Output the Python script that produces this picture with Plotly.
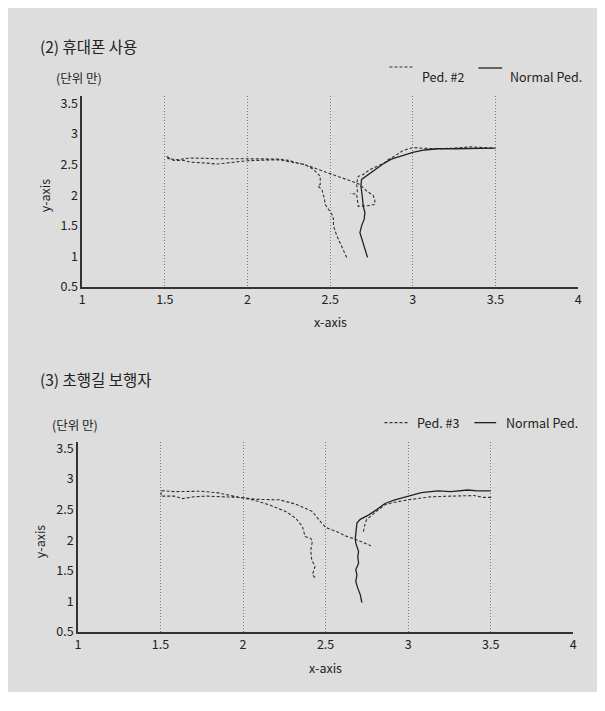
import plotly.graph_objects as go

# ---------------- data ----------------
x_ticks = [1, 1.5, 2, 2.5, 3, 3.5, 4]
y_ticks = [0.5, 1, 1.5, 2, 2.5, 3, 3.5]

# Chart (2) 휴대폰 사용
ped2_x = [2.60, 2.586, 2.56, 2.54, 2.52, 2.52, 2.51, 2.49, 2.47, 2.466, 2.45, 2.426, 2.44, 2.44,
          2.40, 2.35, 2.19, 2.0, 1.914, 1.814, 1.735, 1.655, 1.616, 1.556, 1.512, 1.512,
          1.536, 1.576, 1.616, 1.655, 1.814, 2.0, 2.19, 2.25, 2.31, 2.37, 2.43, 2.5, 2.61, 2.67, 2.69,
          2.72, 2.76, 2.77, 2.77, 2.73, 2.67, 2.665, 2.66, 2.62, None,
          2.665, 2.66, 2.67, 2.70, 2.74, 2.78, 2.83, 2.85, 2.89, 2.94, 3.0, 3.05, 3.15, 3.25, 3.35, 3.49]
ped2_y = [0.985, 1.067, 1.20, 1.34, 1.50, 1.61, 1.69, 1.77, 1.85, 1.93, 2.094, 2.149, 2.175, 2.31,
          2.42, 2.50, 2.58, 2.565, 2.54, 2.51, 2.53, 2.54, 2.57, 2.57, 2.61, 2.636,
          2.593, 2.581, 2.598, 2.609, 2.598, 2.593, 2.593, 2.57, 2.53, 2.48, 2.42, 2.354, 2.257, 2.19, 2.15,
          2.07, 2.0, 1.92, 1.85, 1.83, 1.82, 1.92, 2.02, 2.03, None,
          2.05, 2.2, 2.31, 2.34, 2.42, 2.47, 2.53, 2.58, 2.64, 2.73, 2.78, 2.77, 2.76, 2.77, 2.79, 2.77]
normal1_x = [2.726, 2.71, 2.69, 2.68, 2.69, 2.706, 2.71, 2.70, 2.694, 2.686, 2.69, 2.73, 2.78, 2.83,
             2.87, 2.95, 3.0, 3.07, 3.15, 3.25, 3.37, 3.5]
normal1_y = [0.985, 1.12, 1.28, 1.39, 1.50, 1.61, 1.72, 1.82, 1.99, 2.15, 2.26, 2.34, 2.43, 2.53,
             2.59, 2.66, 2.70, 2.74, 2.76, 2.76, 2.77, 2.77]

# Chart (3) 초행길 보행자
ped3_x = [2.436, 2.42, 2.436, 2.416, 2.41, 2.42, 2.41, 2.376, 2.36, 2.32, 2.26, 2.16, 2.06, 1.998,
          1.942, 1.843, 1.743, 1.584, 1.504, 1.504, 1.584, 1.634, 1.703, 1.783, 1.882, 2.0, 2.08,
          2.22, 2.32, 2.42, 2.47, 2.5, 2.58, 2.62, 2.68, 2.72, 2.775, None,
          2.729, 2.74, 2.75, 2.78, 2.82, 2.86, 2.91, 3.0, 3.06, 3.14, 3.26, 3.40, 3.45, 3.5, 3.5]
ped3_y = [1.39, 1.435, 1.57, 1.68, 1.84, 1.98, 2.03, 2.06, 2.22, 2.358, 2.467, 2.577, 2.658, 2.696,
          2.72, 2.777, 2.80, 2.794, 2.81, 2.72, 2.72, 2.68, 2.71, 2.72, 2.71, 2.696, 2.668,
          2.66, 2.59, 2.467, 2.30, 2.21, 2.125, 2.07, 2.016, 1.973, 1.907, None,
          2.14, 2.28, 2.34, 2.41, 2.495, 2.58, 2.615, 2.66, 2.685, 2.71, 2.72, 2.73, 2.70, 2.70, 2.74]
normal2_x = [2.72, 2.71, 2.695, 2.683, 2.69, 2.683, 2.70, 2.695, 2.70, 2.683, 2.68, 2.683, 2.69, 2.71,
             2.76, 2.81, 2.86, 2.92, 3.0, 3.08, 3.18, 3.26, 3.36, 3.42, 3.5]
normal2_y = [0.98, 1.11, 1.216, 1.325, 1.435, 1.516, 1.624, 1.733, 1.815, 1.95, 2.03, 2.14, 2.28, 2.34,
             2.41, 2.50, 2.60, 2.66, 2.72, 2.777, 2.805, 2.794, 2.82, 2.805, 2.805]

# ---------------- style ----------------
W, H = 589, 684
OFF = 8  # page body margin
BG = "#dcdddc"
FONT = "Noto Sans CJK KR"
TXT = "#222222"
DASH = "3px,2px"

def px(x):
    return (x - OFF) / W

def py(y):
    return 1 - (y - OFF) / H

fig = go.Figure()
fig.add_trace(go.Scatter(x=ped2_x, y=ped2_y, mode="lines", name="Ped. #2",
                         line=dict(color="#333333", width=1.1, dash=DASH),
                         xaxis="x", yaxis="y", connectgaps=False))
fig.add_trace(go.Scatter(x=normal1_x, y=normal1_y, mode="lines", name="Normal Ped.",
                         line=dict(color="#222222", width=1.3),
                         xaxis="x", yaxis="y"))
fig.add_trace(go.Scatter(x=ped3_x, y=ped3_y, mode="lines", name="Ped. #3",
                         line=dict(color="#333333", width=1.1, dash=DASH),
                         xaxis="x2", yaxis="y2", connectgaps=False))
fig.add_trace(go.Scatter(x=normal2_x, y=normal2_y, mode="lines", name="Normal Ped.",
                         line=dict(color="#222222", width=1.3),
                         xaxis="x2", yaxis="y2"))

common_x = dict(range=[1, 4], tickvals=x_ticks, ticktext=[f"{v:g}" for v in x_ticks],
                showgrid=True, gridcolor="#7a7a7a", gridwidth=1, griddash="1px,2px",
                showline=True, linecolor="#333333", linewidth=1.5, zeroline=False,
                ticks="", tickfont=dict(family=FONT, size=12.5, color=TXT), fixedrange=True)
common_y = dict(tickvals=y_ticks, ticktext=[f"{v:g}" for v in y_ticks], showgrid=False,
                showline=True, linecolor="#333333", linewidth=1.5, zeroline=False,
                ticks="", tickfont=dict(family=FONT, size=12.5, color=TXT), fixedrange=True)

fig.update_layout(
    width=W, height=H,
    margin=dict(l=0, r=0, t=0, b=0),
    paper_bgcolor=BG, plot_bgcolor=BG,
    showlegend=False,
    font=dict(family=FONT, color=TXT),
    xaxis=dict(domain=[px(80), px(582)], anchor="y", **common_x),
    yaxis=dict(domain=[py(288), py(93)], range=[0.5, 3.63], anchor="x", **common_y),
    xaxis2=dict(domain=[px(75.7), px(577)], anchor="y2", **common_x),
    yaxis2=dict(domain=[py(639), py(446)], range=[0.5, 3.6], anchor="x2", **common_y),
)

shapes = [
    # legend samples chart 1
    dict(type="line", xref="paper", yref="paper", x0=px(391), x1=px(415), y0=py(64), y1=py(64),
         line=dict(color="#333333", width=1.1, dash="3px,2px")),
    dict(type="line", xref="paper", yref="paper", x0=px(481), x1=px(505), y0=py(65), y1=py(65),
         line=dict(color="#222222", width=1.3)),
    # legend samples chart 2
    dict(type="line", xref="paper", yref="paper", x0=px(386), x1=px(411), y0=py(426), y1=py(426),
         line=dict(color="#333333", width=1.1, dash="3px,2px")),
    dict(type="line", xref="paper", yref="paper", x0=px(477), x1=px(499), y0=py(426), y1=py(426),
         line=dict(color="#222222", width=1.3)),
]
fig.update_layout(shapes=shapes)

def text(x, y, s, size=12.5, xanchor="left", angle=0):
    fig.add_annotation(x=px(x), y=py(y), xref="paper", yref="paper", text=s, showarrow=False,
                       xanchor=xanchor, yanchor="middle", textangle=angle,
                       font=dict(family=FONT, size=size, color=TXT))

# chart 1 texts
text(35, 43, "(2) 휴대폰 사용", size=15.5)
text(52, 75, "(단위 만)", size=12.5)
text(422, 74, "Ped. #2")
text(511, 74, "Normal Ped.")
text(331, 323, "x-axis", xanchor="center")
text(42, 195, "y-axis", xanchor="center", angle=-90)

# chart 2 texts
text(35, 382, "(3) 초행길 보행자", size=15.5)
text(47, 428, "(단위 만)", size=12.5)
text(417, 426, "Ped. #3")
text(507, 426, "Normal Ped.")
text(326, 675, "x-axis", xanchor="center")
text(37, 547, "y-axis", xanchor="center", angle=-90)

fig.write_html("out.html")
